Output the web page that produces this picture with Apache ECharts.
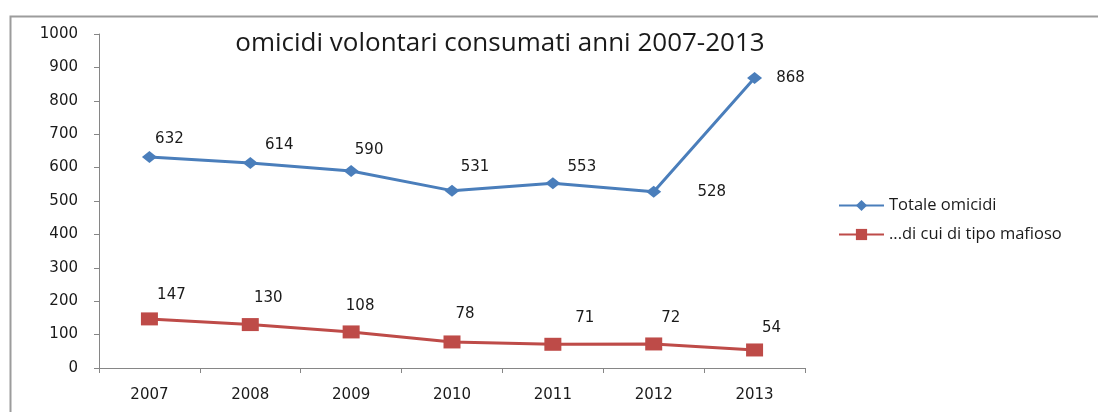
<!DOCTYPE html>
<html>
<head>
<meta charset="utf-8">
<script src="https://cdn.jsdelivr.net/npm/echarts@6/dist/echarts.min.js"></script>
<style>
  html, body { margin: 0; padding: 0; background: #ffffff; }
  #chart { width: 1098px; height: 412px; }
</style>
</head>
<body>
<div id="chart"></div>
<script>
// Omicidi volontari consumati, 2007-2013
const years = ['2007', '2008', '2009', '2010', '2011', '2012', '2013'];
const totaleOmicidi = [632, 614, 590, 531, 553, 528, 868];
const tipoMafioso = [147, 130, 108, 78, 71, 72, 54];
const yTicks = [0, 100, 200, 300, 400, 500, 600, 700, 800, 900, 1000];

const seriesNames = ['Totale omicidi', '...di cui di tipo mafioso'];
const blue = '#4a7ebb';
const red = '#be4b48';
const numFont = 'DejaVu Sans';
const textFont = 'Open Sans';

// label nudges per point, so the value text sits beside its marker
const blueLabelShift = [[20, -18], [29, -18], [18, -21], [23, -24], [29, -16], [58, 0], [36, 0]];
const redLabelShift = [[22, -24], [18, -26], [9, -26], [13, -28], [32, -26], [17, -26], [17, -22]];

function withLabels(values, shifts) {
  return values.map((v, i) => ({
    value: v,
    label: { offset: shifts[i] }
  }));
}

const chart = echarts.init(document.getElementById('chart'), null, { renderer: 'canvas' });

chart.setOption({
  animation: false,
  backgroundColor: '#ffffff',
  title: {
    text: 'omicidi volontari consumati anni 2007-2013',
    left: 495,
    top: 26,
    textAlign: 'center',
    textStyle: { fontFamily: textFont, fontSize: 26, fontWeight: 'normal', color: '#1a1a1a' }
  },
  graphic: [{
    type: 'polyline',
    shape: { points: [[10.5, 420], [10.5, 16.5], [1110, 16.5]] },
    style: { fill: 'none', stroke: '#9c9c9c', lineWidth: 2 },
    silent: true
  }],
  legend: {
    orient: 'vertical',
    left: 833,
    top: 192,
    itemWidth: 45,
    itemHeight: 14,
    itemGap: 12,
    data: seriesNames,
    textStyle: { fontFamily: textFont, fontSize: 16.5, color: '#1a1a1a' }
  },
  grid: { left: 99, right: 293, top: 34, bottom: 44, containLabel: false },
  xAxis: {
    type: 'category',
    data: years,
    boundaryGap: true,
    axisLine: { lineStyle: { color: '#868686', width: 1 } },
    axisTick: { show: true, length: 5, inside: false, lineStyle: { color: '#868686' } },
    axisLabel: { fontFamily: numFont, fontSize: 15, color: '#1a1a1a', margin: 20 },
    splitLine: { show: false }
  },
  yAxis: {
    type: 'value',
    min: yTicks[0],
    max: yTicks[yTicks.length - 1],
    interval: yTicks[1] - yTicks[0],
    axisLine: { show: true, lineStyle: { color: '#868686', width: 1 } },
    axisTick: { show: true, length: 5, lineStyle: { color: '#868686' } },
    axisLabel: {
      fontFamily: numFont,
      fontSize: 15,
      color: '#1a1a1a',
      margin: 21,
      formatter: (v) => String(v)
    },
    splitLine: { show: false }
  },
  series: [
    {
      name: seriesNames[0],
      type: 'line',
      data: withLabels(totaleOmicidi, blueLabelShift),
      symbol: 'diamond',
      symbolSize: [15, 12],
      lineStyle: { color: blue, width: 3 },
      itemStyle: { color: blue },
      label: {
        show: true,
        position: 'inside',
        fontFamily: numFont,
        fontSize: 15,
        color: '#1a1a1a'
      }
    },
    {
      name: seriesNames[1],
      type: 'line',
      data: withLabels(tipoMafioso, redLabelShift),
      symbol: 'rect',
      symbolSize: [17, 13],
      lineStyle: { color: red, width: 3 },
      itemStyle: { color: red },
      label: {
        show: true,
        position: 'inside',
        fontFamily: numFont,
        fontSize: 15,
        color: '#1a1a1a'
      }
    }
  ]
});
</script>
</body>
</html>
